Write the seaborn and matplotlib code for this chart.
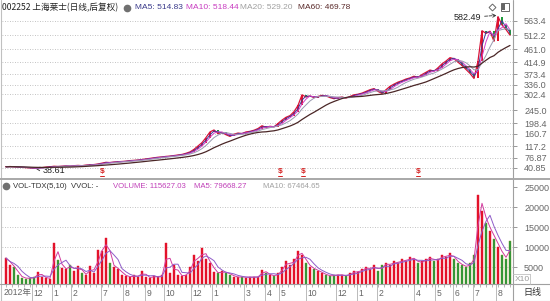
import matplotlib
matplotlib.use('Agg')
import matplotlib.pyplot as plt
import matplotlib.transforms as mtrans
from matplotlib.lines import Line2D
from matplotlib.patches import Rectangle
import seaborn as sns
import numpy as np
import pandas as pd

sns.set_theme(style='white')
plt.rcParams['font.family'] = ['Liberation Sans', 'Noto Sans CJK SC', 'DejaVu Sans']

# ---------------- data (one point ~ one week) ----------------
close = [44, 45, 44, 43, 42, 41, 40, 39, 39.5, 41, 43, 44, 46, 45, 46, 47, 46, 48, 49, 48,
         50, 51, 52, 54, 57, 60, 59, 61, 62, 63, 64, 66, 67, 68, 70, 72, 74, 76, 78, 79,
         81, 82, 84, 86, 88, 92, 97, 106, 118, 130, 148, 168, 175, 162, 166, 158, 152, 160, 164, 162,
         168, 170, 174, 180, 190, 184, 188, 186, 198, 210, 220, 226, 240, 262, 300, 292, 296, 290, 294, 298,
         296, 290, 286, 290, 292, 288, 294, 300, 302, 306, 312, 318, 322, 312, 305, 318, 330, 338, 345, 350,
         356, 360, 366, 362, 372, 380, 388, 384, 396, 410, 420, 432, 428, 416, 404, 390, 376, 358, 420, 528,
         518, 526, 490, 578, 548, 532, 512]
volume = [7300, 5600, 5000, 3000, 2400, 2200, 2300, 2500, 3800, 2600, 2300, 2200, 11000, 6800, 4800,
          4500, 5600, 4000, 5300, 3500, 3000, 5300, 3500, 9300, 9000, 12300, 6000, 5000, 4500, 3200,
          2800, 2500, 3000, 2600, 4000, 2500, 2400, 2800, 2600, 3000, 11000, 3500, 5600, 3000, 2800,
          3200, 5000, 8000, 6500, 9800, 7000, 6000, 3800, 3500, 4000, 3600, 3200, 2600, 2500, 2700,
          2400, 2600, 2500, 2700, 4300, 3500, 3000, 2800, 3500, 5000, 6500, 5500, 7000, 9000, 8000,
          6000, 5000, 4500, 4000, 3500, 3000, 2800, 3000, 3200, 3000, 2800, 3500, 4000, 3800, 4500,
          5000, 4500, 5500, 4000, 5500, 6000, 5500, 6500, 6000, 7000, 6500, 7500, 7000, 6000, 6500,
          7000, 7500, 6500, 7000, 8000, 7500, 8500, 7000, 6000, 5500, 5000, 6000, 8000, 23000, 19000,
          16000, 14000, 12000, 10000, 8000, 7000, 11560]
price_ticks = [563.4, 512.2, 461.0, 414.9, 373.4, 336.0, 302.4, 245.0, 198.4, 160.7, 117.2, 76.87, 40.85]
price_tick_labels = ['563.4', '512.2', '461.0', '414.9', '373.4', '336.0', '302.4', '245.0',
                     '198.4', '160.7', '117.2', '76.87', '40.85']
vol_ticks = [5000, 10000, 15000, 20000, 25000]
month_labels = ['2012年', '12', '1', '2', '7', '8', '9', '10', '12', '1', '3', '4', '5', '10', '12',
                '1', '2', '4', '5', '6', '7', '8']
month_pos = [-1, 6.4, 11.5, 16.25, 23.75, 29.25, 34.75, 39.5, 46.25, 51.5, 59.5, 64.75, 68.25,
             75, 82.5, 87.75, 92.75, 102, 107.25, 111.75, 116.75, 122.5]
dividend_pos = [24, 68.5, 74.25, 103]
high_idx, high_val = 123, 582.49
low_idx, low_val = 7, 38.61

df = pd.DataFrame({'i': np.arange(len(close)), 'close': close, 'vol': volume})
df['prev'] = df['close'].shift(1).fillna(df['close'])
df['up'] = df['close'] >= df['prev']
for name, w in [('ma5', 2), ('ma10', 3), ('ma20', 5), ('ma60', 13)]:
    df[name] = df['close'].rolling(w, min_periods=1).mean()
df['vma5'] = df['vol'].rolling(2, min_periods=1).mean()
df['vma10'] = df['vol'].rolling(4, min_periods=1).mean()

W, H = 550, 301
fig = plt.figure(figsize=(W / 100, H / 100), dpi=100)
fig.patch.set_facecolor('white')


def rect(x0, y0, x1, y1):
    return [x0 / W, 1 - y1 / H, (x1 - x0) / W, (y1 - y0) / H]


def fx(x):
    return x / W


def fy(y):
    return 1 - y / H


RED, GREEN = '#e3122a', '#1f9a3c'
XMIN, XMAX = -1, -1 + 511 / 4

# ---------------- price panel ----------------
axp = fig.add_axes(rect(2, 12, 513, 178))
axp.set_xlim(XMIN, XMAX)
axp.set_ylim(4.2, 594.3)
for t in price_ticks:
    axp.axhline(t, color='#b0b0b0', lw=0.6, ls=(0, (1, 2)), zorder=0)
body_bottom = np.minimum(df['close'], df['prev'])
body_h = np.maximum(np.abs(df['close'] - df['prev']), 2.5)
axp.bar(df['i'], body_h, bottom=body_bottom, width=0.6,
        color=np.where(df['up'], RED, GREEN), linewidth=0, zorder=3)
sns.lineplot(data=df, x='i', y='close', ax=axp, color='#d8143a', lw=0.9, zorder=4)
sns.lineplot(data=df, x='i', y='ma5', ax=axp, color='#3a3a9a', lw=0.7, zorder=5)
sns.lineplot(data=df, x='i', y='ma10', ax=axp, color='#d040c8', lw=0.7, zorder=5)
sns.lineplot(data=df, x='i', y='ma20', ax=axp, color='#9a9ab0', lw=0.7, zorder=5)
sns.lineplot(data=df, x='i', y='ma60', ax=axp, color='#4a2626', lw=0.9, zorder=5)
axp.set_xlabel('')
axp.set_ylabel('')
axp.set_xticks([])
axp.yaxis.tick_right()
axp.set_yticks(price_ticks)
axp.set_yticklabels(price_tick_labels)
axp.tick_params(axis='y', which='both', right=True, length=3, width=0.6, color='#888888',
                labelsize=6.5, labelcolor='#666666', pad=5)
for s in axp.spines.values():
    s.set_visible(False)
axp.annotate(f'{high_val:.2f}', xy=(high_idx, high_val), xytext=(-12, -1.5),
             textcoords='offset points', ha='right', va='center', fontsize=6.5, color='#222222',
             arrowprops=dict(arrowstyle='->', color='#333333', lw=0.6, ls='--',
                             shrinkA=0, shrinkB=1))
axp.annotate(f'{low_val:.2f}', xy=(low_idx, low_val), xytext=(6, -1.5),
             textcoords='offset points', ha='left', va='center', fontsize=6.5, color='#222222',
             arrowprops=dict(arrowstyle='->', color='#333333', lw=0.6, shrinkA=0, shrinkB=1))
btr = mtrans.blended_transform_factory(axp.transData, fig.transFigure)
for p in dividend_pos:
    axp.text(p, fy(172), '$', transform=btr, ha='center', va='center', fontsize=6,
             color='#d42020', fontweight='bold')
    axp.add_line(Line2D([p - 0.6, p + 0.6], [fy(176), fy(176)], transform=btr,
                        color='#d42020', lw=0.7, clip_on=False))

# ---------------- volume panel ----------------
axv = fig.add_axes(rect(2, 181, 513, 284))
axv.set_xlim(XMIN, XMAX)
axv.set_ylim(825, 26575)
for t in vol_ticks[:-1]:
    axv.axhline(t, color='#b0b0b0', lw=0.6, ls=(0, (1, 2)), zorder=0)
axv.bar(df['i'], df['vol'], width=0.7, color=np.where(df['up'], RED, GREEN),
        edgecolor=np.where(df['up'], '#e3122a', '#8a8a20'), linewidth=0.3, zorder=3)
sns.lineplot(data=df, x='i', y='vma5', ax=axv, color='#d23c9e', lw=0.7, zorder=4)
sns.lineplot(data=df, x='i', y='vma10', ax=axv, color='#8f5cc8', lw=0.7, zorder=4)
axv.set_xlabel('')
axv.set_ylabel('')
axv.yaxis.tick_right()
axv.set_yticks(vol_ticks)
axv.set_yticklabels([str(v) for v in vol_ticks])
axv.tick_params(axis='y', right=True, length=3, width=0.6, color='#888888',
                labelsize=6.5, labelcolor='#666666', pad=5)
axv.set_xticks(np.arange(0, len(close), 1.5))
axv.set_xticklabels([])
axv.tick_params(axis='x', bottom=True, direction='out', length=2, width=0.5, color='#999999')
for s in axv.spines.values():
    s.set_visible(False)

# ---------------- frame lines ----------------
def fline(x0, y0, x1, y1, color='#a0a0a0', lw=0.8):
    fig.add_artist(Line2D([fx(x0), fx(x1)], [fy(y0), fy(y1)], transform=fig.transFigure,
                          color=color, lw=lw))

fline(513, 0, 513, 301)
fline(1, 0, 1, 301, color='#c0c0c0')
fline(0, 178.5, 550, 178.5, color='#a8a8a8', lw=1.4)
fline(0, 284, 550, 284, color='#a0a0a0')
fline(0, 300.5, 550, 300.5, color='#c8c8c8')
fline(513, 274, 530, 274, color='#c0c0c0', lw=0.6)
fline(530, 274, 530, 284, color='#c0c0c0', lw=0.6)

# date axis
dtr = mtrans.blended_transform_factory(axv.transData, fig.transFigure)
for lab, p in zip(month_labels, month_pos):
    if p > XMIN:
        axv.add_line(Line2D([p, p], [fy(284), fy(301)], transform=dtr, color='#b0b0b0',
                            lw=0.6, clip_on=False))
    axv.text(p + 0.35, fy(293), lab, transform=dtr, ha='left', va='center', fontsize=6.2,
             color='#666666', family=['Liberation Sans', 'Noto Sans CJK SC', 'DejaVu Sans'])
fig.text(fx(532), fy(293), '日线', ha='center', va='center', fontsize=6.5, color='#333333',
         family=['Noto Sans CJK SC', 'DejaVu Sans'])
fig.text(fx(515), fy(279.5), 'X10', ha='left', va='center', fontsize=6, color='#999999')

# ---------------- header texts ----------------
fig.text(fx(2), fy(7.5), '002252 上海莱士(日线,后复权)', ha='left', va='center', fontsize=6.2,
         color='#222222', family=['Noto Sans CJK SC', 'DejaVu Sans'])
fig.add_artist(Line2D([fx(127)], [fy(7.5)], marker='o', ms=4.5, color='#707070',
                      transform=fig.transFigure))
for x, s, c in [(135, 'MA5: 514.83', '#3a3a8a'), (186, 'MA10: 518.44', '#c83cc0'),
                (240, 'MA20: 529.20', '#a0a0a0'), (298, 'MA60: 469.78', '#5a2a2a')]:
    fig.text(fx(x), fy(7.5), s, ha='left', va='center', fontsize=6, color=c)
fig.add_artist(Line2D([fx(492)], [fy(7)], marker='D', ms=3.5, mfc='none', mec='#666666',
                      mew=0.7, transform=fig.transFigure))
fig.add_artist(Rectangle((fx(501), fy(11)), 8 / W, 8 / H, transform=fig.transFigure,
                         facecolor='white', edgecolor='#666666', lw=0.7))
fig.add_artist(Rectangle((fx(502), fy(10)), 3 / W, 6 / H, transform=fig.transFigure,
                         facecolor='#666666', edgecolor='none'))

fig.add_artist(Line2D([fx(6)], [fy(186)], marker='o', ms=4.5, color='#707070',
                      transform=fig.transFigure))
for x, s, c in [(13, 'VOL-TDX(5,10)  VVOL: -', '#333333'), (113, 'VOLUME: 115627.03', '#c040b8'),
                (194, 'MA5: 79668.27', '#c040b8'), (263, 'MA10: 67464.65', '#a0a0a0')]:
    fig.text(fx(x), fy(186), s, ha='left', va='center', fontsize=5.6, color=c)

fig.savefig('out.png', dpi=100, facecolor='white')
